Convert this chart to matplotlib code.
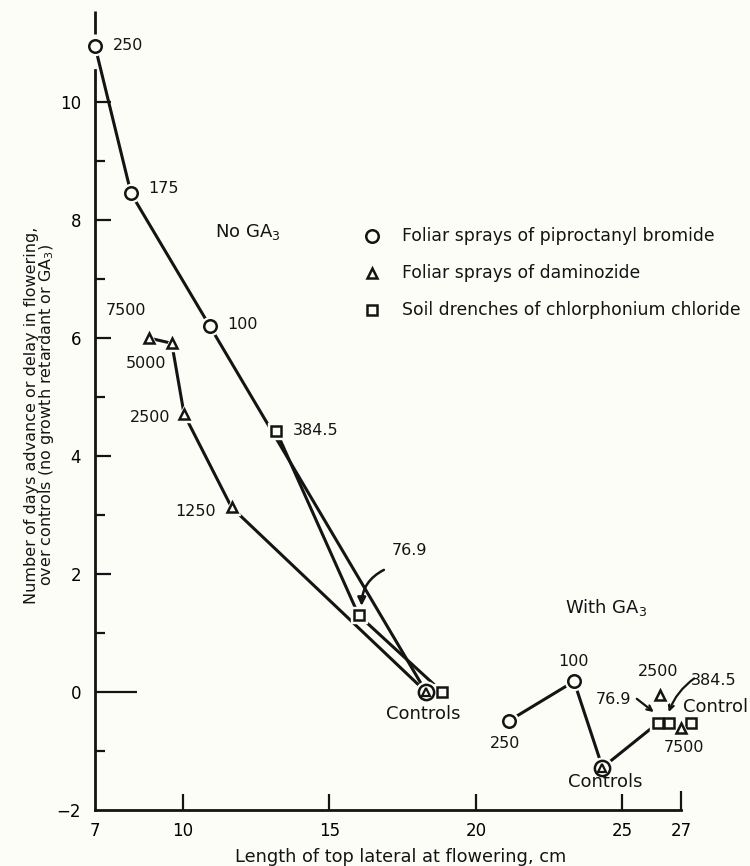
import matplotlib
matplotlib.use("Agg")
import matplotlib.pyplot as plt

# ---- data ----
# No GA3
nog_pip_x = [7.0, 8.23, 10.92, 18.3]
nog_pip_y = [10.95, 8.45, 6.20, 0.0]
nog_pip_lab = ["250", "175", "100"]

nog_dam_x = [8.84, 9.62, 10.04, 11.66, 18.3]
nog_dam_y = [6.0, 5.91, 4.71, 3.13, 0.0]
nog_dam_lab = ["7500", "5000", "2500", "1250"]

nog_soil_x = [13.18, 16.0, 18.85]
nog_soil_y = [4.43, 1.30, 0.0]
nog_soil_lab = ["384.5", "76.9"]

# With GA3
ga_pip_x = [21.12, 23.35, 24.32]
ga_pip_y = [-0.49, 0.18, -1.28]
ga_pip_lab = ["250", "100"]

ga_dam_x = [24.32, 26.28, 26.99]
ga_dam_y = [-1.28, -0.05, -0.61]
ga_dam_lab = ["2500", "7500"]

ga_soil_x = [26.2, 26.58, 27.33]
ga_soil_y = [-0.53, -0.53, -0.53]
ga_soil_lab = ["76.9", "384.5", "Control"]

legend_labels = ["Foliar sprays of piproctanyl bromide",
                 "Foliar sprays of daminozide",
                 "Soil drenches of chlorphonium chloride"]
legend_markers = ["o", "^", "s"]

xticks = [7, 10, 15, 20, 25, 27]
yticks = [-2, 0, 2, 4, 6, 8, 10]
yminor = [-1, 1, 3, 5, 7, 9]

BG = "#fdfdf8"
INK = "#141414"

fig = plt.figure(figsize=(7.5, 8.66), dpi=100)
fig.patch.set_facecolor(BG)
ax = fig.add_axes([95 / 750, 56 / 866, 586 / 750, 802.4 / 866])
ax.set_facecolor(BG)
ax.set_xlim(7, 27)
ax.set_ylim(-2, 11.6)

LW = 2.2
MSIZE = {"o": 9, "^": 7.5, "s": 7.5}


def marks(x, y, m, size=None, z=4):
    s = size or MSIZE[m]
    # halo so that lines stop short of the symbols
    ax.plot(x, y, ls="none", marker=m, ms=s + 4, mfc=BG, mec=BG, zorder=z - 1, clip_on=False)
    ax.plot(x, y, ls="none", marker=m, ms=s, mfc=BG, mec=INK, mew=1.8, zorder=z, clip_on=False)


def line(x, y):
    ax.plot(x, y, color=INK, lw=LW, zorder=2, solid_capstyle="butt", clip_on=False)


# lines
line(nog_pip_x, nog_pip_y)
line(nog_dam_x, nog_dam_y)
line(nog_soil_x, nog_soil_y)
line(ga_pip_x, ga_pip_y)
line([ga_pip_x[-1], ga_soil_x[0]], [ga_pip_y[-1], ga_soil_y[0]])

# symbols
marks(nog_pip_x[:-1], nog_pip_y[:-1], "o")
marks(nog_dam_x[:-1], nog_dam_y[:-1], "^")
marks(nog_soil_x, nog_soil_y, "s")
marks(nog_pip_x[-1:], nog_pip_y[-1:], "o", size=11)
ax.plot(nog_dam_x[-1:], nog_dam_y[-1:], ls="none", marker="^", ms=5.5, mfc=BG, mec=INK, mew=1.6, zorder=6)

marks(ga_pip_x[:-1], ga_pip_y[:-1], "o")
marks(ga_pip_x[-1:], ga_pip_y[-1:], "o", size=11)
ax.plot(ga_dam_x[:1], ga_dam_y[:1], ls="none", marker="^", ms=5.5, mfc=BG, mec=INK, mew=1.6, zorder=6)
marks(ga_soil_x, ga_soil_y, "s")
marks(ga_dam_x[1:], ga_dam_y[1:], "^", z=7)

# ---- text labels ----
NUM = 11.5
WORD = 13
tkw = dict(ha="center", va="center", fontsize=NUM, color=INK)

for s, (x, y) in zip(nog_pip_lab, [(8.13, 10.95), (9.35, 8.53), (12.05, 6.23)]):
    ax.text(x, y, s, **tkw)
for s, (x, y) in zip(nog_dam_lab, [(8.06, 6.46), (8.73, 5.56), (8.88, 4.66), (10.43, 3.06)]):
    ax.text(x, y, s, **tkw)
ax.text(14.54, 4.44, nog_soil_lab[0], **tkw)
ax.text(17.75, 2.39, nog_soil_lab[1], **tkw)
ax.annotate("", xy=(16.1, 1.46), xytext=(16.86, 2.07),
            arrowprops=dict(arrowstyle="-|>", color=INK, lw=1.8, mutation_scale=12,
                            connectionstyle="arc3,rad=0.3", shrinkA=0, shrinkB=0))
ax.text(18.2, -0.38, "Controls", ha="center", va="center", fontsize=WORD, color=INK)
ax.text(12.21, 7.80, "No GA$_3$", ha="center", va="center", fontsize=WORD, color=INK)

ax.text(24.46, 1.43, "With GA$_3$", ha="center", va="center", fontsize=WORD, color=INK)
ax.text(21.01, -0.88, ga_pip_lab[0], **tkw)
ax.text(23.32, 0.52, ga_pip_lab[1], **tkw)
ax.text(24.41, -1.53, "Controls", ha="center", va="center", fontsize=WORD, color=INK)
ax.text(26.22, 0.34, ga_dam_lab[0], **tkw)
ax.text(27.09, -0.94, ga_dam_lab[1], **tkw)
ax.text(24.71, -0.13, ga_soil_lab[0], **tkw)
ax.annotate("", xy=(26.07, -0.34), xytext=(25.49, -0.115),
            arrowprops=dict(arrowstyle="->", color=INK, lw=1.6, mutation_scale=9,
                            shrinkA=0, shrinkB=0))
ax.text(28.1, 0.20, ga_soil_lab[1], **tkw)
ax.annotate("", xy=(26.58, -0.34), xytext=(27.45, 0.23),
            arrowprops=dict(arrowstyle="->", color=INK, lw=1.6, mutation_scale=9,
                            connectionstyle="arc3,rad=0.15", shrinkA=0, shrinkB=0),
            annotation_clip=False)
ax.text(28.19, -0.26, ga_soil_lab[2], ha="center", va="center", fontsize=WORD, color=INK)

# legend drawn as plain symbols + text
leg_y = [7.73, 7.11, 6.48]
for m, lab, y in zip(legend_markers, legend_labels, leg_y):
    ax.plot([16.44], [y], ls="none", marker=m, ms=MSIZE[m], mfc=BG, mec=INK, mew=1.8)
    ax.text(17.49, y, lab, ha="left", va="center", fontsize=12.4, color=INK)

# ---- axes styling ----
for s in ("top", "right"):
    ax.spines[s].set_visible(False)
ax.spines["left"].set_bounds(-2, 10.55)
ax.spines["bottom"].set_bounds(7, 27)
for s in ("left", "bottom"):
    ax.spines[s].set_linewidth(2)
    ax.spines[s].set_color(INK)
ax.plot([7, 7], [11.15, 11.55], color=INK, lw=2, clip_on=False, solid_capstyle="butt")

ax.set_xticks(xticks)
ax.set_yticks(yticks)
ax.set_yticks(yminor, minor=True)
ax.tick_params(axis="x", direction="in", length=11.5, width=1.6, labelsize=12, pad=9, color=INK)
ax.tick_params(axis="y", which="major", direction="in", length=11.5, width=1.6, labelsize=12, pad=10, color=INK)
ax.tick_params(axis="y", which="minor", direction="in", length=7, width=1.6, color=INK)
xt = ax.xaxis.get_major_ticks()
xt[0].tick1line.set_visible(False)
xt[-1].tick1line.set_markersize(14)
yt = ax.yaxis.get_major_ticks()
yt[0].tick1line.set_visible(False)
yt[1].tick1line.set_markersize(30)

fig.text(401 / 750, 4 / 866, "Length of top lateral at flowering, cm",
         ha="center", va="baseline", fontsize=12.8, color=INK)
fig.text(40 / 750, (866 - 415) / 866,
         "Number of days advance or delay in flowering,\nover controls (no growth retardant or GA$_3$)",
         rotation=90, ha="center", va="center", multialignment="center",
         linespacing=0.9, fontsize=11.5, color=INK)

fig.savefig("out.png", dpi=100, facecolor=BG)
